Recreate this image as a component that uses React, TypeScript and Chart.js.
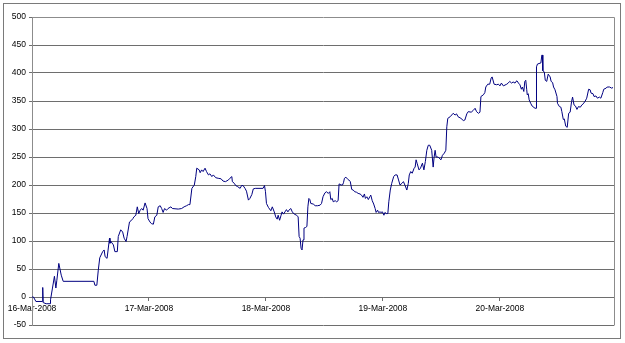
import { useEffect, useRef } from 'react';
import { Chart, registerables } from 'chart.js';

Chart.register(...registerables);

// Day labels on the x axis and their position (hours since 16-Mar-2008 00:00)
const DAY_LABELS = ['16-Mar-2008', '17-Mar-2008', '18-Mar-2008', '19-Mar-2008', '20-Mar-2008'];
const DAY_TICK_HOURS = [0, 24, 48, 72, 96];

// Y axis range
const Y_MIN = -50;
const Y_MAX = 500;
const Y_STEP = 50;
const X_MAX_HOURS = 119.4;

// Time of each observation (hours since 16-Mar-2008 00:00)
const HOURS = [
  0, 0.3, 0.8, 2.1, 2.2, 2.3, 2.9, 3.7, 3.8, 4.2,
  4.6, 4.9, 5.1, 5.5, 6.0, 6.4, 12.7, 12.9, 13.3, 13.6,
  13.9, 14.5, 14.8, 15.0, 15.4, 15.9, 16.0, 16.2, 16.7, 17.0,
  17.5, 17.7, 18.2, 18.6, 18.9, 19.3, 19.5, 20.0, 20.3, 20.7,
  20.9, 21.3, 21.6, 21.9, 22.2, 22.5, 22.8, 23.2, 23.6, 23.8,
  24.2, 24.5, 24.9, 25.2, 25.6, 25.9, 26.3, 26.6, 26.9, 27.2,
  27.6, 27.9, 28.5, 28.8, 30.0, 30.7, 31.2, 31.7, 32.1, 32.4,
  32.8, 33.3, 33.6, 33.8, 34.3, 34.5, 34.8, 35.1, 35.5, 35.8,
  36.2, 36.5, 36.9, 37.2, 37.7, 38.2, 38.8, 39.2, 39.7, 40.3,
  40.6, 41.0, 41.1, 41.5, 41.8, 42.2, 42.7, 43.0, 43.3, 43.7,
  44.0, 44.4, 44.7, 45.1, 45.4, 45.8, 47.4, 47.7, 47.9, 48.1,
  48.5, 49.0, 49.3, 49.7, 50.0, 50.3, 50.5, 50.8, 51.1, 51.3,
  51.6, 51.9, 52.2, 52.5, 52.7, 53.1, 53.4, 53.8, 54.3, 54.6,
  54.8, 55.0, 55.2, 55.4, 55.6, 55.8, 56.1, 56.4, 56.6, 56.8,
  57.0, 57.2, 57.7, 58.1, 58.6, 59.1, 59.4, 59.7, 60.1, 60.4,
  60.8, 61.1, 61.3, 61.6, 61.8, 62.2, 62.5, 62.8, 63.0, 63.4,
  63.7, 63.9, 64.1, 64.4, 64.8, 65.0, 65.3, 65.6, 65.9, 66.2,
  66.6, 66.9, 67.3, 67.6, 67.9, 68.2, 68.4, 68.7, 69.0, 69.3,
  69.5, 69.8, 70.1, 70.4, 70.6, 70.9, 71.1, 71.4, 71.6, 71.9,
  72.2, 72.4, 72.7, 73.0, 73.2, 73.5, 73.8, 74.2, 74.5, 74.9,
  75.2, 75.5, 75.9, 76.2, 76.5, 76.9, 77.2, 77.4, 77.7, 78.0,
  78.4, 78.6, 78.8, 79.0, 79.4, 79.7, 80.1, 80.4, 80.7, 81.0,
  81.3, 81.6, 82.0, 82.3, 82.5, 82.7, 82.9, 83.3, 83.9, 84.2,
  84.6, 84.9, 85.1, 85.3, 85.8, 86.1, 86.4, 86.8, 87.1, 87.4,
  88.0, 88.5, 88.8, 89.2, 89.5, 90.1, 90.5, 90.9, 91.2, 91.6,
  91.9, 92.1, 92.6, 92.9, 93.1, 93.5, 93.9, 94.2, 94.4, 94.8,
  95.3, 95.7, 96.0, 96.3, 96.7, 97.4, 97.7, 98.0, 98.4, 98.7,
  99.1, 99.3, 99.5, 99.8, 100.1, 100.4, 100.6, 100.9, 101.1, 101.3,
  101.5, 101.6, 101.8, 102.0, 102.3, 102.6, 103.2, 103.4, 103.5, 103.7,
  104.4, 104.6, 104.7, 104.8, 105.1, 105.3, 105.6, 105.9, 106.3, 106.5,
  106.8, 107.0, 107.3, 107.7, 107.8, 108.2, 108.5, 108.7, 109.0, 109.2,
  109.5, 109.8, 110.1, 110.4, 110.7, 110.9, 111.2, 111.5, 111.8, 112.1,
  112.5, 112.8, 113.1, 113.5, 113.8, 114.2, 114.5, 114.7, 115.1, 115.3,
  115.7, 116.0, 116.4, 116.7, 117.1, 117.3, 117.8, 118.0, 118.5, 118.9,
  119.2,
];

// Series value at each observation
const VALUES = [
  0, 0, -8, -8, 17, -10, -12, -12, -5, 16,
  37, 16, 30, 60, 39, 28, 28, 21, 21, 48,
  70, 81, 84, 72, 69, 105, 96, 99, 93, 81,
  81, 108, 120, 116, 105, 99, 108, 134, 136, 140,
  143, 146, 161, 149, 155, 158, 155, 168, 158, 140,
  134, 131, 130, 143, 146, 161, 163, 158, 151, 158,
  155, 158, 161, 158, 157, 158, 161, 163, 165, 165,
  194, 200, 215, 230, 227, 222, 227, 224, 230, 224,
  218, 220, 215, 218, 213, 212, 211, 207, 206, 209,
  212, 215, 206, 203, 199, 197, 194, 199, 199, 194,
  189, 173, 176, 183, 193, 194, 194, 199, 188, 167,
  160, 154, 161, 152, 143, 139, 146, 137, 146, 152,
  148, 152, 156, 152, 155, 158, 152, 148, 146, 143,
  108, 105, 87, 84, 102, 123, 124, 126, 161, 176,
  174, 167, 166, 163, 163, 164, 167, 179, 186, 188,
  185, 188, 174, 176, 170, 172, 170, 172, 202, 200,
  200, 204, 212, 214, 210, 209, 206, 192, 191, 188,
  187, 185, 184, 182, 178, 184, 176, 179, 174, 179,
  182, 172, 166, 158, 151, 155, 151, 152, 151, 152,
  146, 151, 149, 149, 170, 191, 203, 215, 218, 218,
  209, 200, 203, 206, 200, 191, 203, 218, 224, 221,
  230, 232, 245, 239, 227, 230, 239, 227, 242, 262,
  271, 271, 262, 232, 250, 262, 250, 250, 245, 253,
  257, 262, 304, 319, 322, 325, 328, 325, 327, 322,
  319, 315, 316, 327, 331, 330, 333, 337, 331, 328,
  330, 358, 361, 365, 375, 380, 380, 391, 393, 380,
  379, 380, 377, 382, 377, 380, 382, 385, 382, 384,
  382, 385, 386, 382, 379, 371, 375, 367, 385, 387,
  370, 361, 363, 352, 346, 341, 337, 337, 411, 416,
  418, 432, 432, 404, 402, 387, 385, 398, 393, 385,
  383, 375, 370, 358, 346, 340, 339, 331, 317, 318,
  305, 303, 328, 330, 349, 357, 343, 341, 335, 340,
  339, 343, 345, 350, 355, 371, 370, 364, 363, 358,
  359, 355, 357, 355, 365, 371, 373, 375, 375, 373,
  374,
];

const FONT = { family: '"Liberation Sans", Arial, sans-serif', size: 8.5 };
const GRID_COLOR = '#6e6e6e';
const BORDER_COLOR = '#8c8c8c';
const LINE_COLOR = '#000080';

const framePlugin = {
  id: 'frames',
  beforeDatasetsDraw(chart: any) {
    const { ctx, chartArea } = chart;
    const l = Math.round(chartArea.left) + 0.5;
    const t = Math.round(chartArea.top) + 0.5;
    const r = Math.round(chartArea.right) + 0.5;
    const b = Math.round(chartArea.bottom) + 0.5;
    ctx.save();
    ctx.strokeStyle = BORDER_COLOR;
    ctx.lineWidth = 1;
    ctx.beginPath();
    ctx.moveTo(l, t);
    ctx.lineTo(r, t);
    ctx.lineTo(r, b);
    ctx.stroke();
    ctx.restore();
  },
  afterDraw(chart: any) {
    const { ctx } = chart;
    ctx.save();
    ctx.strokeStyle = '#7a7a7a';
    ctx.lineWidth = 1;
    ctx.strokeRect(3.5, 3.5, 617, 335);
    ctx.restore();
  },
};

export default function App() {
  const canvasRef = useRef<HTMLCanvasElement | null>(null);

  useEffect(() => {
    document.body.style.margin = '0';
    const canvas = canvasRef.current;
    if (!canvas) return;
    const points = HOURS.map((h, i) => ({ x: h, y: VALUES[i] }));
    const chart = new Chart(canvas, {
      type: 'line',
      data: {
        datasets: [
          {
            data: points,
            borderColor: LINE_COLOR,
            borderWidth: 1,
            pointRadius: 0,
            tension: 0,
            fill: false,
          },
        ],
      },
      options: {
        animation: false,
        responsive: false,
        maintainAspectRatio: false,
        layout: { padding: { left: 0, top: 17, right: 11, bottom: 18 } },
        plugins: { legend: { display: false }, tooltip: { enabled: false } },
        scales: {
          x: {
            type: 'linear',
            min: 0,
            max: X_MAX_HOURS,
            position: { y: 0 } as any,
            afterBuildTicks: (scale: any) => {
              scale.ticks = DAY_TICK_HOURS.map((v) => ({ value: v }));
            },
            ticks: {
              autoSkip: false,
              maxRotation: 0,
              minRotation: 0,
              padding: 4,
              font: FONT,
              color: '#000',
              callback: (_v: any, i: number) => DAY_LABELS[i],
            },
            grid: {
              drawOnChartArea: false,
              drawTicks: true,
              tickLength: 3,
              color: GRID_COLOR,
            },
            border: { display: true, color: GRID_COLOR },
          },
          y: {
            min: Y_MIN,
            max: Y_MAX,
            afterFit: (scale: any) => {
              scale.width = 32;
            },
            ticks: {
              stepSize: Y_STEP,
              padding: 3,
              font: FONT,
              color: '#000',
            },
            grid: {
              color: (c: any) => (c.tick && c.tick.value === Y_MAX ? 'rgba(0,0,0,0)' : GRID_COLOR),
              tickColor: GRID_COLOR,
              tickLength: 3,
              lineWidth: 1,
            },
            border: { display: true, color: BORDER_COLOR },
          },
        },
      },
      plugins: [framePlugin],
    });
    return () => chart.destroy();
  }, []);

  return (
    <div style={{ position: 'absolute', left: 0, top: 0, width: 625, height: 343, background: '#fff' }}>
      <canvas ref={canvasRef} width={625} height={343} />
    </div>
  );
}
